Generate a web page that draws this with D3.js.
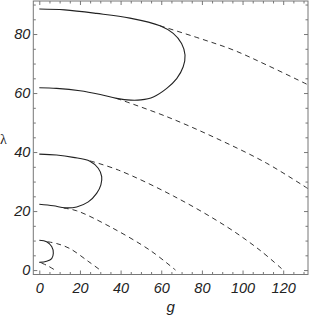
<!DOCTYPE html>
<html>
<head>
<meta charset="utf-8">
<script src="https://cdn.jsdelivr.net/npm/d3@7"></script>
<style>
  body { margin: 0; background: #fff; }
  svg { display: block; }
  .tick text { font-family: "Liberation Sans", Arial, sans-serif; font-style: italic; font-size: 14.5px; fill: #222; }
</style>
</head>
<body>
<script>
// solid curves, [g, lambda]
const loop1 = [[0,88.5],[12.5,88.2],[28.2,87.0],[44.6,85.4],[59.4,82.8],[65.9,80.2],[70.0,76.8],[71.7,72.9],[70.8,68.9],[67.6,64.9],[62.7,61.6],[56.1,58.7],[50,57.7],[45,57.6],[38,58.2],[30,59.5],[20,60.8],[8.5,61.6],[0,61.8]];
const loop2 = [[0,39.3],[8.5,39.0],[16.7,38.2],[24.9,36.9],[29.0,34.5],[30.7,31.7],[30.3,28.9],[28.2,26.0],[24.1,23.1],[18.4,21.4],[12.6,21.1],[6.9,21.8],[0,22.3]];
const loop3 = [[0,10.1],[3.6,9.6],[6.1,8.0],[6.9,5.7],[6.1,3.9],[3.6,3.0],[0,2.6]];

// dashed curves
const dash1 = [[59.4,82.8],[79,78.5],[95.4,74.6],[111.9,69.5],[132.2,62.8]];
const dash2 = [[38,58.2],[62.7,52.0],[87.3,44.6],[111.9,36.2],[132.2,27.6]];
const dash3 = [[25,37.0],[38.9,33.9],[66,25.1],[92.2,14.7],[108.6,6.7],[120,0]];
const dash4 = [[12,21.0],[18.4,20.1],[34.8,14.7],[54.5,6.7],[67,0]];
const dash5 = [[4,9.6],[8.5,9.0],[15,7.3],[24,3.0],[30,0]];
const dash6 = [[1,2.4],[4,1.5],[7.7,0]];

const xMajor = [0, 20, 40, 60, 80, 100, 120];
const yMajor = [0, 20, 40, 60, 80];

const W = 309, H = 317;
const L = 33.3, R = 308, T = 1, B = 274.5;

const svg = d3.select("body").append("svg")
  .attr("width", W)
  .attr("height", H);

const x = d3.scaleLinear().domain([-2.95, 132.2]).range([L, R]);
const y = d3.scaleLinear().domain([-1.5, 91.2]).range([B, T]);

const xMinor = d3.range(5, 131, 5).filter(d => d % 20 !== 0);
const yMinor = d3.range(5, 91, 5).filter(d => d % 20 !== 0);

// clip the curves to the frame
svg.append("clipPath").attr("id", "clip")
  .append("rect").attr("x", L).attr("y", T).attr("width", R - L).attr("height", B - T);

const line = d3.line()
  .x(d => x(d[0]))
  .y(d => y(d[1]))
  .curve(d3.curveCatmullRom.alpha(0.5));

const plot = svg.append("g").attr("clip-path", "url(#clip)");

plot.selectAll(".dashed")
  .data([dash1, dash2, dash3, dash4, dash5, dash6])
  .enter()
  .append("path")
  .attr("class", "dashed")
  .attr("d", line)
  .attr("fill", "none")
  .attr("stroke", "#333")
  .attr("stroke-width", 1)
  .attr("stroke-dasharray", "5,4");

plot.selectAll(".solid")
  .data([loop1, loop2, loop3])
  .enter()
  .append("path")
  .attr("class", "solid")
  .attr("d", line)
  .attr("fill", "none")
  .attr("stroke", "#222")
  .attr("stroke-width", 1.1);

// axes with inward ticks on all four sides
function styleAxis(g) {
  g.select(".domain").remove();
  g.selectAll(".tick line").attr("stroke", "#777");
}

svg.append("g").attr("transform", `translate(0,${B})`)
  .call(d3.axisBottom(x).tickValues(xMajor).tickSize(-4).tickPadding(8).tickFormat(d3.format("d")))
  .call(styleAxis);
svg.append("g").attr("transform", `translate(0,${B})`)
  .call(d3.axisBottom(x).tickValues(xMinor).tickSize(-2.5).tickFormat(""))
  .call(styleAxis);
svg.append("g").attr("transform", `translate(0,${T})`)
  .call(d3.axisTop(x).tickValues(xMajor).tickSize(-4).tickFormat(""))
  .call(styleAxis);
svg.append("g").attr("transform", `translate(0,${T})`)
  .call(d3.axisTop(x).tickValues(xMinor).tickSize(-2.5).tickFormat(""))
  .call(styleAxis);

svg.append("g").attr("transform", `translate(${L},0)`)
  .call(d3.axisLeft(y).tickValues(yMajor).tickSize(-4).tickPadding(3).tickFormat(d3.format("d")))
  .call(styleAxis);
svg.append("g").attr("transform", `translate(${L},0)`)
  .call(d3.axisLeft(y).tickValues(yMinor).tickSize(-2.5).tickFormat(""))
  .call(styleAxis);
svg.append("g").attr("transform", `translate(${R},0)`)
  .call(d3.axisRight(y).tickValues(yMajor).tickSize(-4).tickFormat(""))
  .call(styleAxis);
svg.append("g").attr("transform", `translate(${R},0)`)
  .call(d3.axisRight(y).tickValues(yMinor).tickSize(-2.5).tickFormat(""))
  .call(styleAxis);

// frame
svg.append("rect")
  .attr("x", L).attr("y", T)
  .attr("width", R - L).attr("height", B - T)
  .attr("fill", "none")
  .attr("stroke", "#777")
  .attr("stroke-width", 1);

// axis labels
svg.append("text")
  .attr("x", (L + R) / 2)
  .attr("y", 312)
  .attr("text-anchor", "middle")
  .style("font-family", "Liberation Sans, Arial, sans-serif")
  .style("font-style", "italic")
  .style("font-size", "15px")
  .style("fill", "#222")
  .text("g");

svg.append("text")
  .attr("x", 0)
  .attr("y", 143.5)
  .style("font-family", "Liberation Serif, serif")
  .style("font-size", "14px")
  .style("fill", "#222")
  .text("λ");
</script>
</body>
</html>
